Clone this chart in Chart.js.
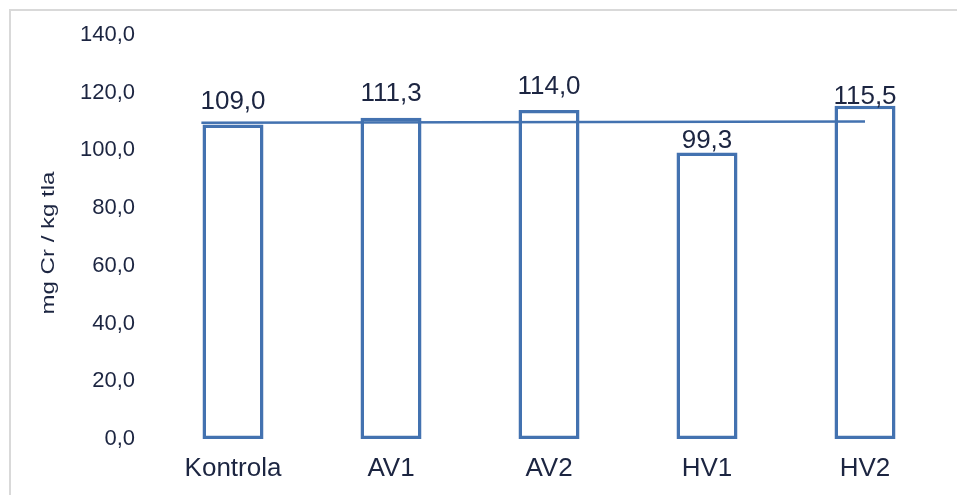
<!DOCTYPE html>
<html>
<head>
<meta charset="utf-8">
<title>mg Cr / kg tla</title>
<script src="https://cdn.jsdelivr.net/npm/chart.js@4.4.1/dist/chart.umd.min.js"></script>
<style>
    html, body { margin: 0; padding: 0; background: #fff; }
    #wrap { width: 957px; height: 495px; }
</style>
</head>
<body>
<div id="wrap"><canvas id="chart" width="957" height="495"></canvas></div>
<script>
// Data
const categories = ['Kontrola', 'AV1', 'AV2', 'HV1', 'HV2'];
const values = [109.0, 111.3, 114.0, 99.3, 115.5];
const trendX = [-0.2, 4];
const trendY = [109.6, 110.0];
const yTicks = [0, 20, 40, 60, 80, 100, 120, 140];
const yTitle = 'mg Cr / kg tla';

// Styles
const BLUE = '#4372b0';
const TEXT = '#1c2541';
const FONT = '"Liberation Sans", Arial, sans-serif';

const fmt = v => v.toFixed(1).replace('.', ',');

// Frame lines (top + left, like the cropped Excel border)
const framePlugin = {
    id: 'frame',
    beforeDraw(chart) {
        const ctx = chart.ctx;
        ctx.save();
        ctx.fillStyle = '#fff';
        ctx.fillRect(0, 0, chart.width, chart.height);
        ctx.strokeStyle = '#d9d9d9';
        ctx.lineWidth = 2;
        ctx.beginPath();
        ctx.moveTo(10, chart.height);
        ctx.lineTo(10, 10);
        ctx.lineTo(chart.width, 10);
        ctx.stroke();
        ctx.restore();
    }
};

// Rotated, stretched y title
const yTitlePlugin = {
    id: 'yTitle',
    afterDraw(chart) {
        const ctx = chart.ctx;
        ctx.save();
        ctx.font = '18px ' + FONT;
        ctx.fillStyle = TEXT;
        ctx.textAlign = 'center';
        ctx.textBaseline = 'middle';
        const w = ctx.measureText(yTitle).width;
        ctx.translate(49, 243);
        ctx.rotate(-Math.PI / 2);
        ctx.scale(143 / w, 1);
        ctx.fillText(yTitle, 0, 0);
        ctx.restore();
    }
};

// Value labels above bars
const labelPlugin = {
    id: 'barLabels',
    afterDatasetsDraw(chart, args, opts) {
        const ctx = chart.ctx;
        const meta = chart.getDatasetMeta(0);
        ctx.save();
        ctx.font = '26px ' + FONT;
        ctx.fillStyle = TEXT;
        ctx.textAlign = 'center';
        ctx.textBaseline = 'middle';
        meta.data.forEach((bar, i) => {
            ctx.fillText(fmt(values[i]), bar.x, bar.y - opts.offsets[i]);
        });
        ctx.restore();
    }
};

const chart = new Chart(document.getElementById('chart'), {
    type: 'bar',
    data: {
        labels: categories,
        datasets: [{
            data: values,
            backgroundColor: '#fff',
            borderColor: BLUE,
            borderWidth: 3.5,
            borderSkipped: false,
            inflateAmount: 0,
            barThickness: 61,
            grouped: false,
            order: 1
        }, {
            type: 'line',
            data: trendX.map((x, i) => ({ x: x, y: trendY[i] })),
            xAxisID: 'x2',
            borderColor: BLUE,
            borderWidth: 2.5,
            pointRadius: 0,
            fill: false,
            order: 0
        }]
    },
    options: {
        responsive: false,
        animation: false,
        layout: { padding: { top: 35, right: 13, left: 0, bottom: 0 } },
        plugins: {
            legend: { display: false },
            tooltip: { enabled: false },
            barLabels: { offsets: [23, 24, 23, 12, 9] }
        },
        scales: {
            x: {
                type: 'category',
                offset: true,
                grid: { display: false, drawTicks: false },
                border: { display: false },
                ticks: { color: TEXT, font: { family: FONT, size: 26 }, padding: 14, maxRotation: 0 },
                afterFit: s => { s.height = 56; }
            },
            x2: {
                type: 'linear',
                display: false,
                offset: false,
                min: -0.5,
                max: 4.5
            },
            y: {
                min: 0,
                max: 140,
                grid: { display: false, drawTicks: false },
                border: { display: false },
                afterBuildTicks: s => { s.ticks = yTicks.map(v => ({ value: v })); },
                ticks: {
                    color: TEXT,
                    font: { family: FONT, size: 22 },
                    padding: 19,
                    callback: v => fmt(v)
                },
                afterFit: s => { s.width = 154; }
            }
        }
    },
    plugins: [framePlugin, yTitlePlugin, labelPlugin]
});
</script>
</body>
</html>
